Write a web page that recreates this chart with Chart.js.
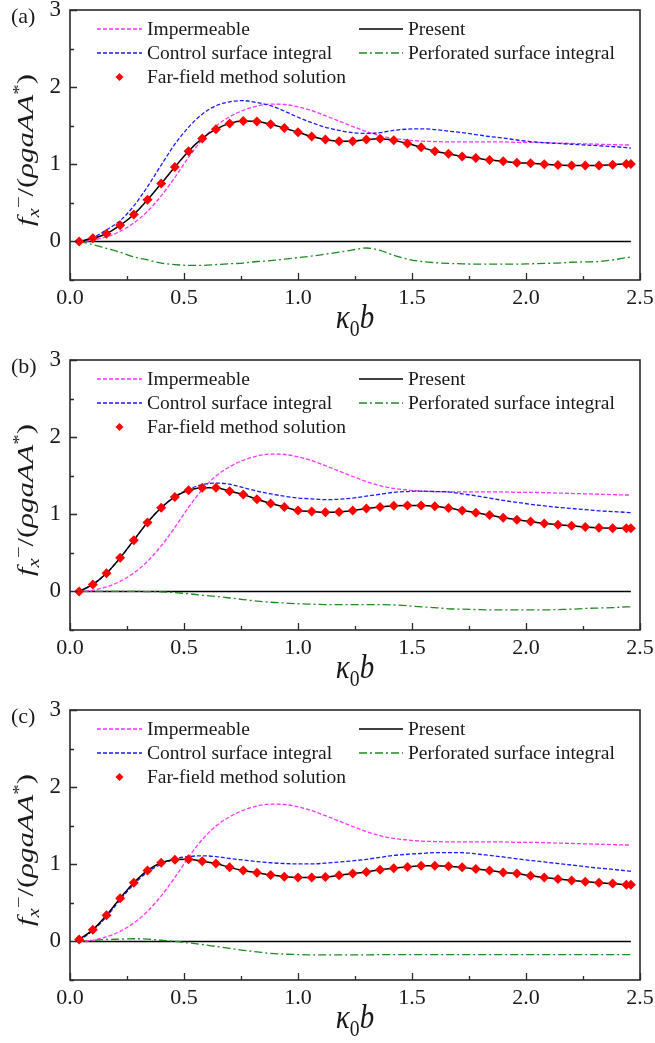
<!DOCTYPE html>
<html>
<head>
<meta charset="utf-8">
<script src="https://cdn.jsdelivr.net/npm/chart.js@4.4.1/dist/chart.umd.min.js"></script>
<style>
  html, body { margin:0; padding:0; background:#fff; }
  #wrap { position:relative; width:655px; height:1043px; overflow:hidden; font-family:"Liberation Serif","DejaVu Serif",serif; color:#1a1a1a; }
  .panel { position:absolute; left:0; width:655px; }
  .panel canvas { position:absolute; left:0; top:0; }
  .plabel { position:absolute; left:11px; top:3px; font-size:22px; }
  .ytitle { position:absolute; left:25px; top:150px; transform:translate(-50%,-50%) rotate(-90deg) scaleX(1.28); white-space:nowrap; font-size:24px; line-height:1; }
  .ytitle sub, .ytitle sup { font-size:0.68em; line-height:0; }
  .xtitle { position:absolute; left:355px; top:304px; transform-origin:50% 26px; transform:translateX(-50%) scale(1.0, 1.15); white-space:nowrap; font-size:29px; line-height:1; }
  .xtitle sub { font-size:0.68em; line-height:0; }
</style>
</head>
<body>
<div id="wrap"></div>
<script>
// ---------------- DATA ----------------
const kb = [0.04,0.10,0.16,0.22,0.28,0.34,0.40,0.46,0.52,0.58,0.64,0.70,0.76,0.82,0.88,0.94,1.00,1.06,1.12,1.18,1.24,1.30,1.36,1.42,1.48,1.54,1.60,1.66,1.72,1.78,1.84,1.90,1.96,2.02,2.08,2.14,2.20,2.26,2.32,2.38,2.44,2.46];

const impermeable = [0,0.015,0.06,0.13,0.24,0.39,0.59,0.83,1.09,1.32,1.495,1.615,1.70,1.755,1.78,1.775,1.745,1.695,1.63,1.56,1.49,1.425,1.37,1.335,1.315,1.30,1.295,1.29,1.29,1.29,1.29,1.29,1.285,1.285,1.28,1.275,1.27,1.265,1.26,1.255,1.25,1.25];

// panel (a)
const farA  = [0,0.04,0.10,0.21,0.35,0.54,0.75,0.965,1.17,1.335,1.455,1.53,1.56,1.555,1.52,1.47,1.415,1.36,1.32,1.30,1.30,1.32,1.33,1.31,1.27,1.22,1.17,1.135,1.10,1.08,1.055,1.04,1.02,1.013,1.00,0.99,0.985,0.985,0.985,0.995,1.005,1.005];
const ctrlA = [0,0.05,0.15,0.27,0.46,0.71,0.99,1.26,1.48,1.65,1.76,1.81,1.825,1.80,1.76,1.69,1.61,1.54,1.48,1.44,1.41,1.40,1.41,1.44,1.455,1.46,1.45,1.43,1.41,1.385,1.36,1.34,1.315,1.295,1.28,1.27,1.26,1.25,1.24,1.23,1.215,1.21];
const perfA = [0,-0.04,-0.09,-0.14,-0.20,-0.24,-0.28,-0.30,-0.31,-0.31,-0.30,-0.29,-0.28,-0.26,-0.25,-0.23,-0.21,-0.19,-0.165,-0.14,-0.11,-0.085,-0.115,-0.18,-0.23,-0.26,-0.275,-0.285,-0.29,-0.295,-0.295,-0.295,-0.295,-0.29,-0.285,-0.28,-0.27,-0.265,-0.26,-0.24,-0.21,-0.20];

// panel (b)
const farB  = [0,0.09,0.235,0.435,0.665,0.895,1.085,1.225,1.31,1.345,1.345,1.30,1.255,1.195,1.14,1.095,1.05,1.035,1.025,1.03,1.05,1.075,1.095,1.11,1.115,1.115,1.105,1.08,1.05,1.02,0.99,0.955,0.93,0.905,0.88,0.865,0.85,0.835,0.825,0.82,0.82,0.82];
const ctrlB = [0,0.09,0.235,0.435,0.665,0.895,1.085,1.23,1.325,1.385,1.405,1.39,1.345,1.30,1.265,1.235,1.21,1.20,1.19,1.195,1.21,1.235,1.26,1.285,1.295,1.30,1.295,1.29,1.265,1.24,1.21,1.18,1.155,1.13,1.11,1.09,1.075,1.06,1.045,1.035,1.025,1.02];
const perfB = [0,0,0,0,0,-0.002,-0.005,-0.015,-0.03,-0.05,-0.065,-0.085,-0.105,-0.125,-0.14,-0.15,-0.16,-0.165,-0.17,-0.17,-0.17,-0.17,-0.17,-0.175,-0.185,-0.20,-0.21,-0.225,-0.23,-0.235,-0.24,-0.24,-0.24,-0.24,-0.24,-0.235,-0.23,-0.22,-0.215,-0.21,-0.20,-0.20];

// panel (c)
const farC  = [0.026,0.15,0.34,0.56,0.76,0.92,1.02,1.06,1.065,1.04,1.01,0.96,0.92,0.89,0.86,0.84,0.83,0.83,0.835,0.857,0.88,0.90,0.93,0.95,0.965,0.98,0.98,0.975,0.96,0.94,0.92,0.895,0.88,0.85,0.83,0.81,0.79,0.775,0.76,0.75,0.735,0.735];
const ctrlC = [0.01,0.14,0.32,0.54,0.74,0.90,1.00,1.07,1.10,1.11,1.10,1.075,1.055,1.035,1.02,1.01,1.005,1.005,1.015,1.03,1.045,1.065,1.09,1.115,1.13,1.14,1.15,1.15,1.15,1.135,1.115,1.095,1.07,1.05,1.03,1.01,0.99,0.97,0.95,0.935,0.915,0.91];
const perfC = [0.005,0.015,0.025,0.03,0.035,0.03,0.015,0,-0.02,-0.04,-0.065,-0.09,-0.115,-0.135,-0.155,-0.165,-0.17,-0.175,-0.175,-0.175,-0.175,-0.175,-0.17,-0.17,-0.17,-0.17,-0.17,-0.17,-0.17,-0.17,-0.17,-0.17,-0.17,-0.17,-0.17,-0.17,-0.17,-0.17,-0.17,-0.17,-0.17,-0.17];

const zeroX = [0.04, 2.46];
const zeroY = [0, 0];

const xTicks = [0.0, 0.5, 1.0, 1.5, 2.0, 2.5];
const xMinor = [0.25, 0.75, 1.25, 1.75, 2.25];
const yTicks = [0, 1, 2, 3];
const yMinor = [-0.5, 0.5, 1.5, 2.5];

const panelLabels = ["(a)", "(b)", "(c)"];
const seriesNames = ["Impermeable", "Present", "Control surface integral", "Perforated surface integral", "Far-field method solution"];

// ---------------- RENDER ----------------
const FONT = "'Liberation Serif', 'DejaVu Serif', serif";
const TXT = '#1a1a1a';
const pts = (xs, ys) => xs.map((x, i) => ({x, y: ys[i]}));

const framePlugin = {
  id: 'frame',
  afterDatasetsDraw(chart) {
    const {ctx, chartArea: {left, right, top, bottom}, scales: {x, y}} = chart;
    ctx.save();
    ctx.strokeStyle = '#2a2a2a';
    ctx.lineWidth = 1.6;
    ctx.strokeRect(left, top, right - left, bottom - top);
    ctx.lineWidth = 1.3;
    ctx.beginPath();
    xTicks.forEach(v => { const p = Math.round(x.getPixelForValue(v)) + 0.5; ctx.moveTo(p, bottom); ctx.lineTo(p, bottom - 7); });
    xMinor.forEach(v => { const p = Math.round(x.getPixelForValue(v)) + 0.5; ctx.moveTo(p, bottom); ctx.lineTo(p, bottom - 4); });
    yTicks.forEach(v => { const p = Math.round(y.getPixelForValue(v)) + 0.5; ctx.moveTo(left, p); ctx.lineTo(left + 7, p); });
    yMinor.forEach(v => { const p = Math.round(y.getPixelForValue(v)) + 0.5; ctx.moveTo(left, p); ctx.lineTo(left + 4, p); });
    ctx.stroke();

    // legend
    const rows = [29, 53, 77];
    const cols = [{x0: 97, x1: 142, tx: 147}, {x0: 359, x1: 403, tx: 408}];
    const layout = [
      {name: seriesNames[0], c: 0, r: 0},
      {name: seriesNames[2], c: 0, r: 1},
      {name: seriesNames[4], c: 0, r: 2},
      {name: seriesNames[1], c: 1, r: 0},
      {name: seriesNames[3], c: 1, r: 1},
    ];
    ctx.font = `19.5px ${FONT}`;
    ctx.textBaseline = 'alphabetic';
    ctx.textAlign = 'left';
    layout.forEach(it => {
      const ds = chart.data.datasets.find(d => d.label === it.name);
      const col = cols[it.c], yy = rows[it.r];
      if (ds.showLine === false) {
        ctx.fillStyle = ds.pointBackgroundColor;
        ctx.beginPath();
        const r = 4, cx = (col.x0 + col.x1) / 2;
        ctx.moveTo(cx, yy - r); ctx.lineTo(cx + r, yy); ctx.lineTo(cx, yy + r); ctx.lineTo(cx - r, yy); ctx.closePath();
        ctx.fill();
      } else {
        ctx.strokeStyle = ds.borderColor;
        ctx.lineWidth = ds.borderWidth;
        ctx.setLineDash(ds.borderDash || []);
        ctx.beginPath(); ctx.moveTo(col.x0, yy); ctx.lineTo(col.x1, yy); ctx.stroke();
        ctx.setLineDash([]);
      }
      ctx.fillStyle = TXT;
      ctx.fillText(it.name, col.tx, yy + 6);
    });
    ctx.restore();
  }
};

const panels = [
  {top: 0,   h: 350, far: farA, ctrl: ctrlA, perf: perfA},
  {top: 350, h: 350, far: farB, ctrl: ctrlB, perf: perfB},
  {top: 700, h: 343, far: farC, ctrl: ctrlC, perf: perfC},
];

const wrap = document.getElementById('wrap');
panels.forEach((p, idx) => {
  const div = document.createElement('div');
  div.className = 'panel';
  div.style.top = p.top + 'px';
  div.style.height = p.h + 'px';
  const cv = document.createElement('canvas');
  cv.width = 655; cv.height = p.h;
  cv.style.width = '655px'; cv.style.height = p.h + 'px';
  div.appendChild(cv);
  const lab = document.createElement('div'); lab.className = 'plabel'; lab.textContent = panelLabels[idx]; div.appendChild(lab);
  const yt = document.createElement('div'); yt.className = 'ytitle';
  yt.innerHTML = '<i>f</i><sub><i>x</i></sub><sup>−</sup>/(<i>ρgaAA</i><sup>*</sup>)';
  div.appendChild(yt);
  const xt = document.createElement('div'); xt.className = 'xtitle';
  xt.innerHTML = '<i>κ</i><sub>0</sub><i>b</i>';
  div.appendChild(xt);
  wrap.appendChild(div);

  new Chart(cv.getContext('2d'), {
    type: 'line',
    data: {
      datasets: [
        {label: seriesNames[4], data: pts(kb, p.far), showLine: false, pointStyle: 'rectRot', pointRadius: 5, pointBackgroundColor: '#ff0000', pointBorderWidth: 0, order: 0},
        {label: seriesNames[1], data: pts(kb, p.far), borderColor: '#000000', borderWidth: 1.5, pointRadius: 0, cubicInterpolationMode: 'monotone', order: 1},
        {label: seriesNames[0], data: pts(kb, impermeable), borderColor: '#ff33ff', borderWidth: 1.3, borderDash: [4, 2], pointRadius: 0, cubicInterpolationMode: 'monotone', order: 3},
        {label: seriesNames[2], data: pts(kb, p.ctrl), borderColor: '#1a1aff', borderWidth: 1.3, borderDash: [4, 2], pointRadius: 0, cubicInterpolationMode: 'monotone', order: 2},
        {label: seriesNames[3], data: pts(kb, p.perf), borderColor: '#1f8a1f', borderWidth: 1.3, borderDash: [8, 3, 2, 3], pointRadius: 0, cubicInterpolationMode: 'monotone', order: 4},
        {label: 'zero', data: pts(zeroX, zeroY), borderColor: '#000000', borderWidth: 1.5, pointRadius: 0, order: 5},
      ]
    },
    options: {
      responsive: false,
      animation: false,
      devicePixelRatio: 1,
      layout: {padding: {top: 10, right: 15, left: 0, bottom: 0}},
      plugins: {legend: {display: false}, tooltip: {enabled: false}},
      scales: {
        x: {
          type: 'linear', min: 0, max: 2.5,
          afterBuildTicks: s => { s.ticks = xTicks.map(v => ({value: v})); },
          afterFit: s => { s.height = p.h - 280; s.paddingLeft = 0; s.paddingRight = 0; },
          ticks: {callback: v => v.toFixed(1), font: {family: FONT, size: 22}, color: TXT, padding: 5, maxRotation: 0, autoSkip: false},
          grid: {display: false, drawTicks: false},
          border: {display: false}
        },
        y: {
          type: 'linear', min: -0.5, max: 3,
          afterBuildTicks: s => { s.ticks = yTicks.map(v => ({value: v})); },
          afterFit: s => { s.width = 70; s.paddingTop = 0; s.paddingBottom = 0; },
          ticks: {callback: v => String(v), font: {family: FONT, size: 23}, color: TXT, padding: 9, autoSkip: false},
          grid: {display: false, drawTicks: false},
          border: {display: false}
        }
      }
    },
    plugins: [framePlugin]
  });
});
</script>
</body>
</html>
